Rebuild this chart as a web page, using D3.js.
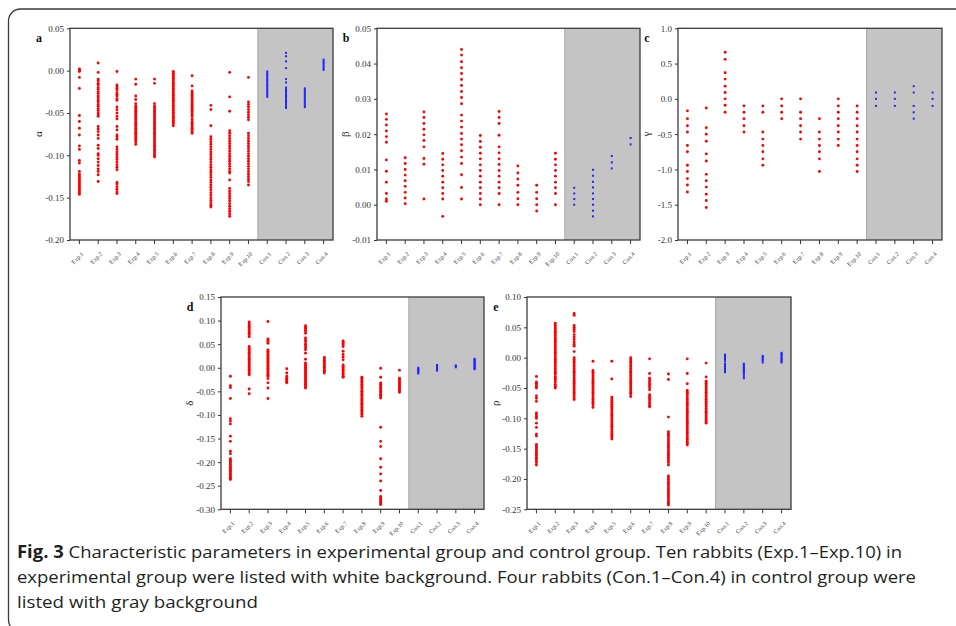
<!DOCTYPE html>
<html>
<head>
<meta charset="utf-8">
<title>Fig. 3</title>
<style>
body { margin: 0; background: #fff; }
svg { display: block; }
.caption { font-family: "Open Sans", "Noto Sans", sans-serif; fill: #231f20; }
</style>
</head>
<body>
<script src="https://cdn.jsdelivr.net/npm/d3@7"></script>
<script>

var categories = ["Exp.1", "Exp.2", "Exp.3", "Exp.4", "Exp.5", "Exp.6", "Exp.7", "Exp.8", "Exp.9", "Exp.10",
                  "Con.1", "Con.2", "Con.3", "Con.4"];
var controlStart = "Con.1";

// one list of readings per rabbit, in the order of categories
var alphaVals = [
  [0.002, 0.001, 0.000, -0.001, -0.008, -0.021, -0.053, -0.060, -0.068, -0.076, -0.089, -0.093, -0.106, -0.109, -0.119, -0.122, -0.124, -0.126, -0.128, -0.130, -0.132, -0.134, -0.136, -0.138, -0.140, -0.142, -0.144, -0.146],
  [0.009, -0.002, -0.010, -0.012, -0.015, -0.017, -0.020, -0.022, -0.025, -0.027, -0.030, -0.032, -0.035, -0.037, -0.040, -0.042, -0.045, -0.047, -0.050, -0.052, -0.054, -0.066, -0.069, -0.072, -0.076, -0.080, -0.088, -0.092, -0.098, -0.100, -0.104, -0.108, -0.112, -0.116, -0.119, -0.123, -0.131],
  [-0.001, -0.017, -0.019, -0.021, -0.023, -0.026, -0.028, -0.030, -0.033, -0.035, -0.043, -0.046, -0.050, -0.054, -0.057, -0.066, -0.070, -0.076, -0.078, -0.081, -0.090, -0.093, -0.096, -0.099, -0.102, -0.105, -0.108, -0.111, -0.114, -0.117, -0.132, -0.134, -0.137, -0.140, -0.143, -0.145],
  [-0.010, -0.016, -0.030, -0.034, -0.039, -0.042, -0.044, -0.046, -0.048, -0.050, -0.052, -0.054, -0.056, -0.058, -0.060, -0.062, -0.064, -0.066, -0.068, -0.070, -0.072, -0.074, -0.076, -0.078, -0.080, -0.082, -0.084, -0.087],
  [-0.010, -0.015, -0.039, -0.042, -0.044, -0.046, -0.048, -0.050, -0.052, -0.054, -0.056, -0.058, -0.060, -0.062, -0.064, -0.066, -0.068, -0.070, -0.072, -0.074, -0.076, -0.078, -0.080, -0.082, -0.084, -0.086, -0.088, -0.090, -0.092, -0.094, -0.096, -0.098, -0.100, -0.102],
  [-0.001, -0.003, -0.005, -0.007, -0.009, -0.011, -0.013, -0.015, -0.017, -0.019, -0.021, -0.023, -0.025, -0.027, -0.029, -0.031, -0.033, -0.035, -0.037, -0.039, -0.041, -0.043, -0.045, -0.047, -0.049, -0.051, -0.053, -0.055, -0.057, -0.059, -0.061, -0.063, -0.065],
  [-0.006, -0.018, -0.024, -0.026, -0.028, -0.030, -0.032, -0.034, -0.036, -0.038, -0.040, -0.042, -0.044, -0.046, -0.048, -0.050, -0.052, -0.054, -0.057, -0.060, -0.062, -0.064, -0.066, -0.068, -0.070, -0.072, -0.074],
  [-0.041, -0.046, -0.065, -0.078, -0.081, -0.084, -0.087, -0.090, -0.093, -0.096, -0.099, -0.102, -0.105, -0.108, -0.111, -0.114, -0.117, -0.120, -0.123, -0.126, -0.129, -0.132, -0.135, -0.138, -0.141, -0.144, -0.147, -0.150, -0.153, -0.156, -0.159, -0.161],
  [-0.002, -0.031, -0.048, -0.071, -0.074, -0.077, -0.080, -0.083, -0.086, -0.089, -0.092, -0.095, -0.098, -0.101, -0.104, -0.107, -0.110, -0.113, -0.116, -0.119, -0.121, -0.129, -0.139, -0.142, -0.145, -0.148, -0.151, -0.154, -0.157, -0.160, -0.163, -0.166, -0.169, -0.172],
  [-0.008, -0.037, -0.040, -0.043, -0.046, -0.049, -0.052, -0.055, -0.058, -0.074, -0.077, -0.080, -0.083, -0.086, -0.089, -0.092, -0.095, -0.098, -0.101, -0.104, -0.107, -0.110, -0.113, -0.116, -0.119, -0.122, -0.125, -0.128, -0.131, -0.135],
  [-0.001, -0.003, -0.005, -0.007, -0.009, -0.011, -0.013, -0.015, -0.017, -0.019, -0.021, -0.023, -0.025, -0.027, -0.029, -0.031],
  [0.021, 0.017, 0.011, 0.003, -0.010, -0.014, -0.020, -0.022, -0.024, -0.026, -0.028, -0.030, -0.032, -0.034, -0.036, -0.038, -0.040, -0.042, -0.044],
  [-0.021, -0.023, -0.025, -0.027, -0.029, -0.031, -0.033, -0.035, -0.037, -0.039, -0.041, -0.043],
  [0.013, 0.011, 0.009, 0.007, 0.005, 0.003, 0.001]
];

var betaVals = [
  [0.0257, 0.0242, 0.0226, 0.0209, 0.0193, 0.0177, 0.0127, 0.0095, 0.0064, 0.0032, 0.0016, 0.0010],
  [0.0133, 0.0117, 0.0100, 0.0084, 0.0068, 0.0052, 0.0035, 0.0019, 0.0003],
  [0.0263, 0.0247, 0.0230, 0.0214, 0.0198, 0.0182, 0.0164, 0.0131, 0.0115, 0.0016],
  [0.0145, 0.0129, 0.0113, 0.0097, 0.0081, 0.0064, 0.0048, 0.0032, 0.0016, -0.0033],
  [0.0440, 0.0424, 0.0405, 0.0388, 0.0372, 0.0355, 0.0338, 0.0321, 0.0304, 0.0286, 0.0254, 0.0237, 0.0220, 0.0202, 0.0186, 0.0170, 0.0153, 0.0135, 0.0117, 0.0085, 0.0049, 0.0016],
  [0.0196, 0.0179, 0.0163, 0.0146, 0.0130, 0.0113, 0.0097, 0.0081, 0.0064, 0.0048, 0.0032, 0.0016, 0.0000],
  [0.0264, 0.0247, 0.0230, 0.0197, 0.0164, 0.0147, 0.0130, 0.0114, 0.0097, 0.0081, 0.0064, 0.0048, 0.0032, 0.0000],
  [0.0110, 0.0090, 0.0073, 0.0055, 0.0035, 0.0017, 0.0000],
  [0.0055, 0.0035, 0.0017, 0.0000, -0.0018],
  [0.0146, 0.0129, 0.0113, 0.0097, 0.0081, 0.0064, 0.0048, 0.0032, 0.0000],
  [0.0048, 0.0032, 0.0016, 0.0000],
  [0.0099, 0.0082, 0.0065, 0.0049, 0.0032, 0.0016, 0.0000, -0.0017, -0.0033],
  [0.0138, 0.0120, 0.0103],
  [0.0189, 0.0171]
];

var gammaVals = [
  [-0.17, -0.28, -0.38, -0.47, -0.66, -0.75, -0.94, -1.03, -1.13, -1.22, -1.32],
  [-0.13, -0.41, -0.50, -0.60, -0.78, -0.88, -1.07, -1.16, -1.25, -1.35, -1.44, -1.54],
  [0.66, 0.56, 0.37, 0.28, 0.18, 0.09, 0.00, -0.09, -0.19],
  [-0.10, -0.19, -0.28, -0.38, -0.47],
  [-0.10, -0.19, -0.47, -0.57, -0.66, -0.75, -0.85, -0.94],
  [0.00, -0.10, -0.19, -0.28],
  [0.00, -0.19, -0.28, -0.38, -0.47, -0.57],
  [-0.28, -0.47, -0.57, -0.66, -0.75, -0.85, -1.03],
  [0.00, -0.10, -0.19, -0.28, -0.38, -0.47, -0.57, -0.66],
  [-0.10, -0.19, -0.28, -0.38, -0.47, -0.57, -0.66, -0.75, -0.85, -0.94, -1.03],
  [0.09, 0.00, -0.10],
  [0.09, 0.00, -0.10],
  [0.18, 0.09, -0.10, -0.19, -0.28],
  [0.09, 0.00, -0.10]
];

var deltaVals = [
  [-0.018, -0.038, -0.042, -0.065, -0.108, -0.113, -0.119, -0.145, -0.156, -0.177, -0.182, -0.193, -0.196, -0.199, -0.202, -0.205, -0.208, -0.211, -0.214, -0.217, -0.220, -0.223, -0.226, -0.229, -0.232, -0.235, -0.237],
  [0.097, 0.094, 0.091, 0.088, 0.085, 0.082, 0.079, 0.076, 0.073, 0.070, 0.066, 0.045, 0.042, 0.039, 0.036, 0.033, 0.030, 0.027, 0.024, 0.021, 0.018, 0.015, 0.012, 0.009, 0.006, 0.003, 0.000, -0.003, -0.006, -0.009, -0.012, -0.015, -0.045, -0.055],
  [0.098, 0.061, 0.058, 0.055, 0.052, 0.038, 0.035, 0.032, 0.029, 0.026, 0.023, 0.020, 0.017, 0.014, 0.011, 0.008, 0.005, 0.002, -0.001, -0.004, -0.007, -0.010, -0.013, -0.016, -0.018, -0.023, -0.032, -0.043, -0.065],
  [-0.002, -0.011, -0.018, -0.022, -0.025, -0.028, -0.030, -0.032],
  [0.089, 0.086, 0.083, 0.080, 0.077, 0.073, 0.063, 0.059, 0.055, 0.050, 0.046, 0.042, 0.038, 0.031, 0.018, 0.010, 0.007, 0.004, 0.001, -0.002, -0.005, -0.008, -0.011, -0.014, -0.017, -0.020, -0.023, -0.026, -0.029, -0.032, -0.035, -0.038, -0.041, -0.043],
  [0.022, 0.019, 0.016, 0.013, 0.010, 0.007, 0.004, 0.001, -0.002, -0.005, -0.008, -0.011],
  [0.057, 0.054, 0.051, 0.048, 0.045, 0.035, 0.028, 0.023, 0.017, 0.006, 0.003, 0.000, -0.003, -0.006, -0.009, -0.012, -0.015, -0.018, -0.020],
  [-0.020, -0.023, -0.026, -0.029, -0.032, -0.035, -0.038, -0.041, -0.043, -0.047, -0.050, -0.053, -0.056, -0.059, -0.062, -0.065, -0.068, -0.071, -0.075, -0.078, -0.081, -0.084, -0.087, -0.090, -0.093, -0.096, -0.099, -0.103],
  [-0.001, -0.020, -0.032, -0.035, -0.038, -0.041, -0.044, -0.047, -0.050, -0.053, -0.056, -0.059, -0.062, -0.064, -0.126, -0.156, -0.167, -0.193, -0.211, -0.225, -0.240, -0.260, -0.273, -0.276, -0.279, -0.282, -0.285, -0.288, -0.290],
  [-0.005, -0.022, -0.025, -0.028, -0.031, -0.034, -0.037, -0.040, -0.043, -0.046, -0.049, -0.052],
  [0.000, -0.002, -0.004, -0.006, -0.008, -0.010, -0.012],
  [0.006, 0.004, 0.002, 0.000, -0.002, -0.004, -0.006],
  [0.005, 0.003, 0.001],
  [0.019, 0.017, 0.015, 0.013, 0.011, 0.009, 0.007, 0.005, 0.003, 0.001, -0.001, -0.003]
];

var rhoVals = [
  [-0.031, -0.040, -0.042, -0.045, -0.048, -0.050, -0.063, -0.067, -0.072, -0.091, -0.094, -0.097, -0.100, -0.108, -0.115, -0.126, -0.129, -0.143, -0.146, -0.149, -0.152, -0.155, -0.158, -0.161, -0.164, -0.167, -0.170, -0.173, -0.177],
  [0.057, 0.054, 0.051, 0.048, 0.045, 0.042, 0.039, 0.036, 0.033, 0.030, 0.027, 0.024, 0.021, 0.018, 0.015, 0.012, 0.009, 0.006, 0.003, 0.000, -0.003, -0.006, -0.009, -0.012, -0.015, -0.018, -0.021, -0.024, -0.027, -0.031, -0.034, -0.037, -0.040, -0.044, -0.047, -0.050],
  [0.073, 0.070, 0.053, 0.050, 0.047, 0.043, 0.038, 0.034, 0.030, 0.026, 0.022, 0.019, 0.010, 0.000, -0.003, -0.006, -0.009, -0.012, -0.015, -0.018, -0.021, -0.024, -0.027, -0.030, -0.033, -0.036, -0.039, -0.042, -0.045, -0.048, -0.051, -0.054, -0.057, -0.060, -0.063, -0.066, -0.069],
  [-0.006, -0.021, -0.024, -0.027, -0.030, -0.033, -0.036, -0.039, -0.042, -0.045, -0.048, -0.051, -0.054, -0.057, -0.060, -0.063, -0.066, -0.069, -0.072, -0.075, -0.078, -0.082],
  [-0.006, -0.035, -0.065, -0.068, -0.071, -0.074, -0.077, -0.080, -0.083, -0.086, -0.089, -0.092, -0.095, -0.098, -0.101, -0.104, -0.107, -0.110, -0.113, -0.116, -0.119, -0.122, -0.125, -0.128, -0.131, -0.134],
  [0.000, -0.003, -0.006, -0.009, -0.012, -0.015, -0.018, -0.021, -0.024, -0.027, -0.030, -0.033, -0.036, -0.039, -0.042, -0.045, -0.048, -0.051, -0.054, -0.057, -0.060, -0.064],
  [-0.002, -0.026, -0.034, -0.037, -0.040, -0.043, -0.046, -0.049, -0.053, -0.061, -0.064, -0.067, -0.070, -0.073, -0.076, -0.079, -0.081],
  [-0.027, -0.036, -0.098, -0.122, -0.125, -0.128, -0.131, -0.134, -0.137, -0.140, -0.143, -0.146, -0.149, -0.152, -0.155, -0.158, -0.161, -0.164, -0.167, -0.170, -0.173, -0.177, -0.195, -0.198, -0.201, -0.204, -0.207, -0.210, -0.213, -0.216, -0.219, -0.222, -0.225, -0.228, -0.231, -0.234, -0.237, -0.240, -0.243],
  [-0.002, -0.026, -0.043, -0.054, -0.057, -0.060, -0.063, -0.066, -0.069, -0.072, -0.075, -0.078, -0.081, -0.084, -0.087, -0.090, -0.093, -0.096, -0.099, -0.102, -0.105, -0.108, -0.111, -0.114, -0.117, -0.120, -0.123, -0.126, -0.129, -0.132, -0.135, -0.138, -0.141, -0.144],
  [-0.009, -0.032, -0.039, -0.042, -0.045, -0.048, -0.051, -0.054, -0.057, -0.060, -0.063, -0.066, -0.069, -0.072, -0.075, -0.078, -0.081, -0.084, -0.087, -0.090, -0.093, -0.096, -0.099, -0.102, -0.105, -0.108],
  [0.005, 0.003, 0.001, -0.001, -0.003, -0.006, -0.010, -0.012, -0.014, -0.016, -0.018, -0.020, -0.022, -0.024],
  [-0.010, -0.012, -0.014, -0.016, -0.018, -0.020, -0.022, -0.024, -0.026, -0.028, -0.031, -0.034],
  [0.003, 0.001, -0.001, -0.003, -0.005, -0.008],
  [0.008, 0.006, 0.004, 0.002, 0.000, -0.002, -0.004, -0.006, -0.008]
];

// y tick values per panel
var alphaTicks = [0.05, 0.00, -0.05, -0.10, -0.15, -0.20];
var betaTicks  = [0.05, 0.04, 0.03, 0.02, 0.01, 0.00, -0.01];
var gammaTicks = [1.0, 0.5, 0.0, -0.5, -1.0, -1.5, -2.0];
var deltaTicks = [0.15, 0.10, 0.05, 0.00, -0.05, -0.10, -0.15, -0.20, -0.25, -0.30];
var rhoTicks   = [0.10, 0.05, 0.00, -0.05, -0.10, -0.15, -0.20, -0.25];

var captionBold = "Fig. 3";
var captionLines = [
  "Characteristic parameters in experimental group and control group. Ten rabbits (Exp.1\u2013Exp.10) in",
  "experimental group were listed with white background. Four rabbits (Con.1\u2013Con.4) in control group were",
  "listed with gray background"
];

var serif = "'Liberation Serif', 'Times New Roman', serif";
var width = 956, height = 626;

var svg = d3.select("body").append("svg")
    .attr("width", width)
    .attr("height", height);

// outer frame with the rounded corner
svg.append("rect")
    .attr("x", 8.5).attr("y", 9)
    .attr("width", 1000).attr("height", 623)
    .attr("rx", 12)
    .attr("fill", "none")
    .attr("stroke", "#3a3a3a")
    .attr("stroke-width", 1.3);

var panels = [
  {letter: "a", sym: "\u03b1", vals: alphaVals, ticks: alphaTicks, dec: 2, x0: 70,  x1: 333, y0: 28.3, y1: 240},
  {letter: "b", sym: "\u03b2", vals: betaVals,  ticks: betaTicks,  dec: 2, x0: 377, x1: 640, y0: 28.3, y1: 240},
  {letter: "c", sym: "\u03b3", vals: gammaVals, ticks: gammaTicks, dec: 1, x0: 678, x1: 942, y0: 28.3, y1: 240},
  {letter: "d", sym: "\u03b4", vals: deltaVals, ticks: deltaTicks, dec: 2, x0: 221, x1: 484, y0: 297, y1: 509.3},
  {letter: "e", sym: "\u03c1", vals: rhoVals,   ticks: rhoTicks,   dec: 2, x0: 527, x1: 791, y0: 297, y1: 509.3}
];

panels.forEach(drawPanel);

function drawPanel(p) {
  var g = svg.append("g");

  var x = d3.scaleBand()
      .domain(categories)
      .range([p.x0, p.x1]);

  var y = d3.scaleLinear()
      .domain(d3.extent(p.ticks))
      .range([p.y1, p.y0]);

  var fmt = d3.format("." + p.dec + "f");

  // gray background for the control group
  var gx = x(controlStart);
  g.append("rect")
      .attr("x", gx).attr("y", p.y0)
      .attr("width", p.x1 - gx).attr("height", p.y1 - p.y0)
      .attr("fill", "#c4c4c4");
  g.append("line")
      .attr("x1", gx).attr("x2", gx)
      .attr("y1", p.y0).attr("y2", p.y1)
      .attr("stroke", "#a6a6a6")
      .attr("stroke-width", 1);

  // points
  var pts = [];
  p.vals.forEach(function(list, i) {
    list.forEach(function(v) {
      pts.push({cat: categories[i], v: v, ctrl: i >= 10});
    });
  });

  g.append("g").selectAll("circle")
      .data(pts.filter(function(d) { return !d.ctrl; }))
      .enter().append("circle")
      .attr("cx", function(d) { return x(d.cat) + x.bandwidth() / 2; })
      .attr("cy", function(d) { return y(d.v); })
      .attr("r", 1.45)
      .attr("fill", "#ff0000");

  g.append("g").selectAll("rect")
      .data(pts.filter(function(d) { return d.ctrl; }))
      .enter().append("rect")
      .attr("x", function(d) { return x(d.cat) + x.bandwidth() / 2 - 1; })
      .attr("y", function(d) { return y(d.v) - 1; })
      .attr("width", 2).attr("height", 2)
      .attr("fill", "#2424ff");

  // axes
  var yAxis = g.append("g")
      .attr("transform", "translate(" + p.x0 + ",0)")
      .call(d3.axisLeft(y).tickValues(p.ticks).tickSize(3).tickPadding(3)
        .tickFormat(function(d) { return fmt(d).replace("\u2212", "-"); }));
  yAxis.attr("font-family", serif).attr("font-size", 9);
  yAxis.select(".domain").remove();
  yAxis.selectAll(".tick line").attr("stroke", "#333");
  yAxis.selectAll("text").attr("fill", "#333");

  var xAxis = g.append("g")
      .attr("transform", "translate(0," + p.y1 + ")")
      .call(d3.axisBottom(x).tickSize(4));
  xAxis.attr("font-family", serif).attr("font-size", 6);
  xAxis.select(".domain").remove();
  xAxis.selectAll(".tick line").attr("stroke", "#333");
  xAxis.selectAll("text")
      .attr("fill", "#444")
      .attr("text-anchor", "end")
      .attr("y", 0).attr("dy", "0.35em")
      .attr("transform", "translate(3,13) rotate(-45)");

  // plot frame
  g.append("rect")
      .attr("x", p.x0).attr("y", p.y0)
      .attr("width", p.x1 - p.x0).attr("height", p.y1 - p.y0)
      .attr("fill", "none")
      .attr("stroke", "#3c3c3c")
      .attr("stroke-width", 1.3);

  // panel letter
  g.append("text")
      .attr("x", p.x0 - 31).attr("y", p.y0 + 14)
      .attr("text-anchor", "middle")
      .attr("font-family", serif)
      .attr("font-weight", "bold")
      .attr("font-size", 12)
      .attr("fill", "#111")
      .text(p.letter);

  // axis symbol
  var cy = (p.y0 + p.y1) / 2;
  g.append("text")
      .attr("transform", "translate(" + (p.x0 - 28) + "," + cy + ") rotate(-90)")
      .attr("text-anchor", "middle")
      .attr("font-family", serif)
      .attr("font-size", 11)
      .attr("fill", "#222")
      .text(p.sym);
}

// caption
var cap = svg.append("g").attr("class", "caption");
var baselines = [558, 583, 608];
var lineWidths = [885, 899, 241];

captionLines.forEach(function(line, i) {
  var t = cap.append("text")
      .attr("x", 17).attr("y", baselines[i])
      .style("font-size", "17px")
      .attr("textLength", lineWidths[i])
      .attr("lengthAdjust", "spacingAndGlyphs");
  if (i === 0) {
    t.append("tspan").style("font-weight", "bold").text(captionBold + "  ");
  }
  t.append("tspan").text(line);
});

</script>
</body>
</html>
